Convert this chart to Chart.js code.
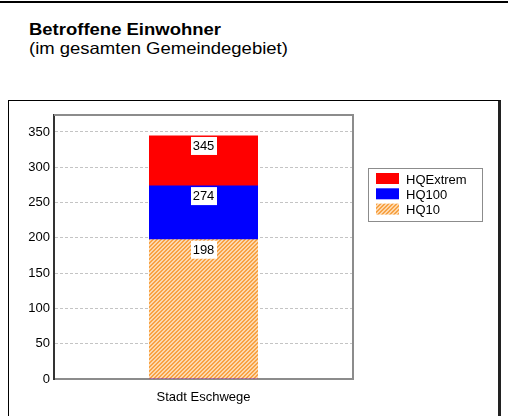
<!DOCTYPE html>
<html>
<head>
<meta charset="utf-8">
<script src="https://cdn.jsdelivr.net/npm/chart.js@4"></script>
<style>
  body { margin: 0; background: #fff; width: 508px; height: 416px; overflow: hidden; position: relative; font-family: "Liberation Sans", Arial, sans-serif; }
  .topline { position: absolute; left: 0; top: 1px; width: 508px; height: 2px; background: #000; }
  .heading { position: absolute; left: 29px; top: 20px; font-size: 16.5px; line-height: 18.5px; color: #000; transform: scaleX(1.12); transform-origin: left top; }
  .heading b { display: block; }
  .frame { position: absolute; left: 8px; top: 100px; width: 489px; height: 340px; border: 1px solid #000; border-right: 3px solid #222; }
  #chart { position: absolute; left: 0; top: 0; }
</style>
</head>
<body>
<div class="topline"></div>
<div class="heading"><b>Betroffene Einwohner</b>(im gesamten Gemeindegebiet)</div>
<div class="frame"></div>
<canvas id="chart" width="508" height="416"></canvas>
<script>
// Betroffene Einwohner je Hochwasserszenario
const categories = ['Stadt Eschwege'];
const seriesNames = ['HQExtrem', 'HQ100', 'HQ10'];
const hqExtrem = [345];
const hq100 = [274];
const hq10 = [198];
const yTicks = [0, 50, 100, 150, 200, 250, 300, 350];

const FONT = '"Liberation Sans", Arial, sans-serif';

// orange diagonal hatch for HQ10
function makeHatch() {
    const c = document.createElement('canvas');
    c.width = 4;
    c.height = 4;
    const g = c.getContext('2d');
    g.fillStyle = '#fdd8ad';
    g.fillRect(0, 0, 4, 4);
    g.fillStyle = '#f7a244';
    for (let i = 0; i < 4; i++) {
        g.fillRect(i, 3 - i, 1, 1);
        g.fillRect(i, (4 - i) % 4, 1, 1);
    }
    return g.createPattern(c, 'repeat');
}
const hatch = makeHatch();

// gray frame round the plot area
const plotFrame = {
    id: 'plotFrame',
    beforeDatasetsDraw(chart) {
        const a = chart.chartArea;
        const ctx = chart.ctx;
        ctx.save();
        ctx.strokeStyle = '#8c8c8c';
        ctx.lineWidth = 2;
        ctx.beginPath();
        ctx.moveTo(a.left, a.top);
        ctx.lineTo(a.right, a.top);
        ctx.lineTo(a.right, a.bottom);
        ctx.stroke();
        ctx.restore();
    }
};

// white boxes with the value at the top of each bar
const valueLabels = {
    id: 'valueLabels',
    afterDatasetsDraw(chart) {
        const ctx = chart.ctx;
        ctx.save();
        ctx.font = '13px ' + FONT;
        ctx.textAlign = 'center';
        ctx.textBaseline = 'middle';
        chart.data.datasets.forEach((ds, di) => {
            chart.getDatasetMeta(di).data.forEach((bar, i) => {
                const txt = String(ds.data[i]);
                const w = ctx.measureText(txt).width + 4;
                const top = bar.y + 1.5;
                ctx.fillStyle = '#fff';
                ctx.fillRect(Math.round(bar.x - w / 2), top, Math.round(w), 18);
                ctx.fillStyle = '#000';
                ctx.fillText(txt, bar.x, top + 9.5);
            });
        });
        ctx.restore();
    }
};

// legend in a bordered box right of the plot
const boxLegend = {
    id: 'boxLegend',
    afterDraw(chart) {
        const a = chart.chartArea;
        const ctx = chart.ctx;
        const x = a.right + 15;
        const y = a.top + 53;
        ctx.save();
        ctx.strokeStyle = '#8c8c8c';
        ctx.lineWidth = 1;
        ctx.strokeRect(x + 0.5, y + 0.5, 114, 53);
        ctx.font = '13px ' + FONT;
        ctx.textBaseline = 'middle';
        chart.data.datasets.forEach((ds, i) => {
            const ry = y + 5 + i * 15.3;
            ctx.fillStyle = ds.backgroundColor;
            ctx.fillRect(x + 8, ry, 23, 11);
            ctx.fillStyle = '#000';
            ctx.fillText(ds.label, x + 38, ry + 7);
        });
        ctx.restore();
    }
};

new Chart(document.getElementById('chart'), {
    type: 'bar',
    data: {
        labels: categories,
        datasets: [
            { label: seriesNames[0], data: hqExtrem, backgroundColor: '#ff0000', order: 3 },
            { label: seriesNames[1], data: hq100, backgroundColor: '#0000ff', order: 2 },
            { label: seriesNames[2], data: hq10, backgroundColor: hatch, order: 1 }
        ]
    },
    options: {
        responsive: false,
        animation: false,
        layout: { padding: { top: 115, right: 155, left: 0, bottom: 0 } },
        datasets: {
            bar: { grouped: false, barPercentage: 109 / 299, categoryPercentage: 1, borderWidth: 0, inflateAmount: 0 }
        },
        plugins: {
            legend: { display: false },
            tooltip: { enabled: false }
        },
        scales: {
            x: {
                grid: { display: false },
                border: { color: '#8c8c8c', width: 2 },
                ticks: { color: '#000', font: { family: FONT, size: 13 }, padding: 3 },
                afterFit(scale) { scale.height = 37; }
            },
            y: {
                min: 0,
                max: 374,
                grid: { color: '#c4c4c4', lineWidth: 1, drawTicks: false },
                border: { color: '#333', width: 2, dash: [3, 2] },
                ticks: { color: '#000', font: { family: FONT, size: 13 }, padding: 4 },
                afterBuildTicks(scale) { scale.ticks = yTicks.map(v => ({ value: v })); },
                afterFit(scale) { scale.width = 54; }
            }
        }
    },
    plugins: [plotFrame, valueLabels, boxLegend]
});
</script>
</body>
</html>
